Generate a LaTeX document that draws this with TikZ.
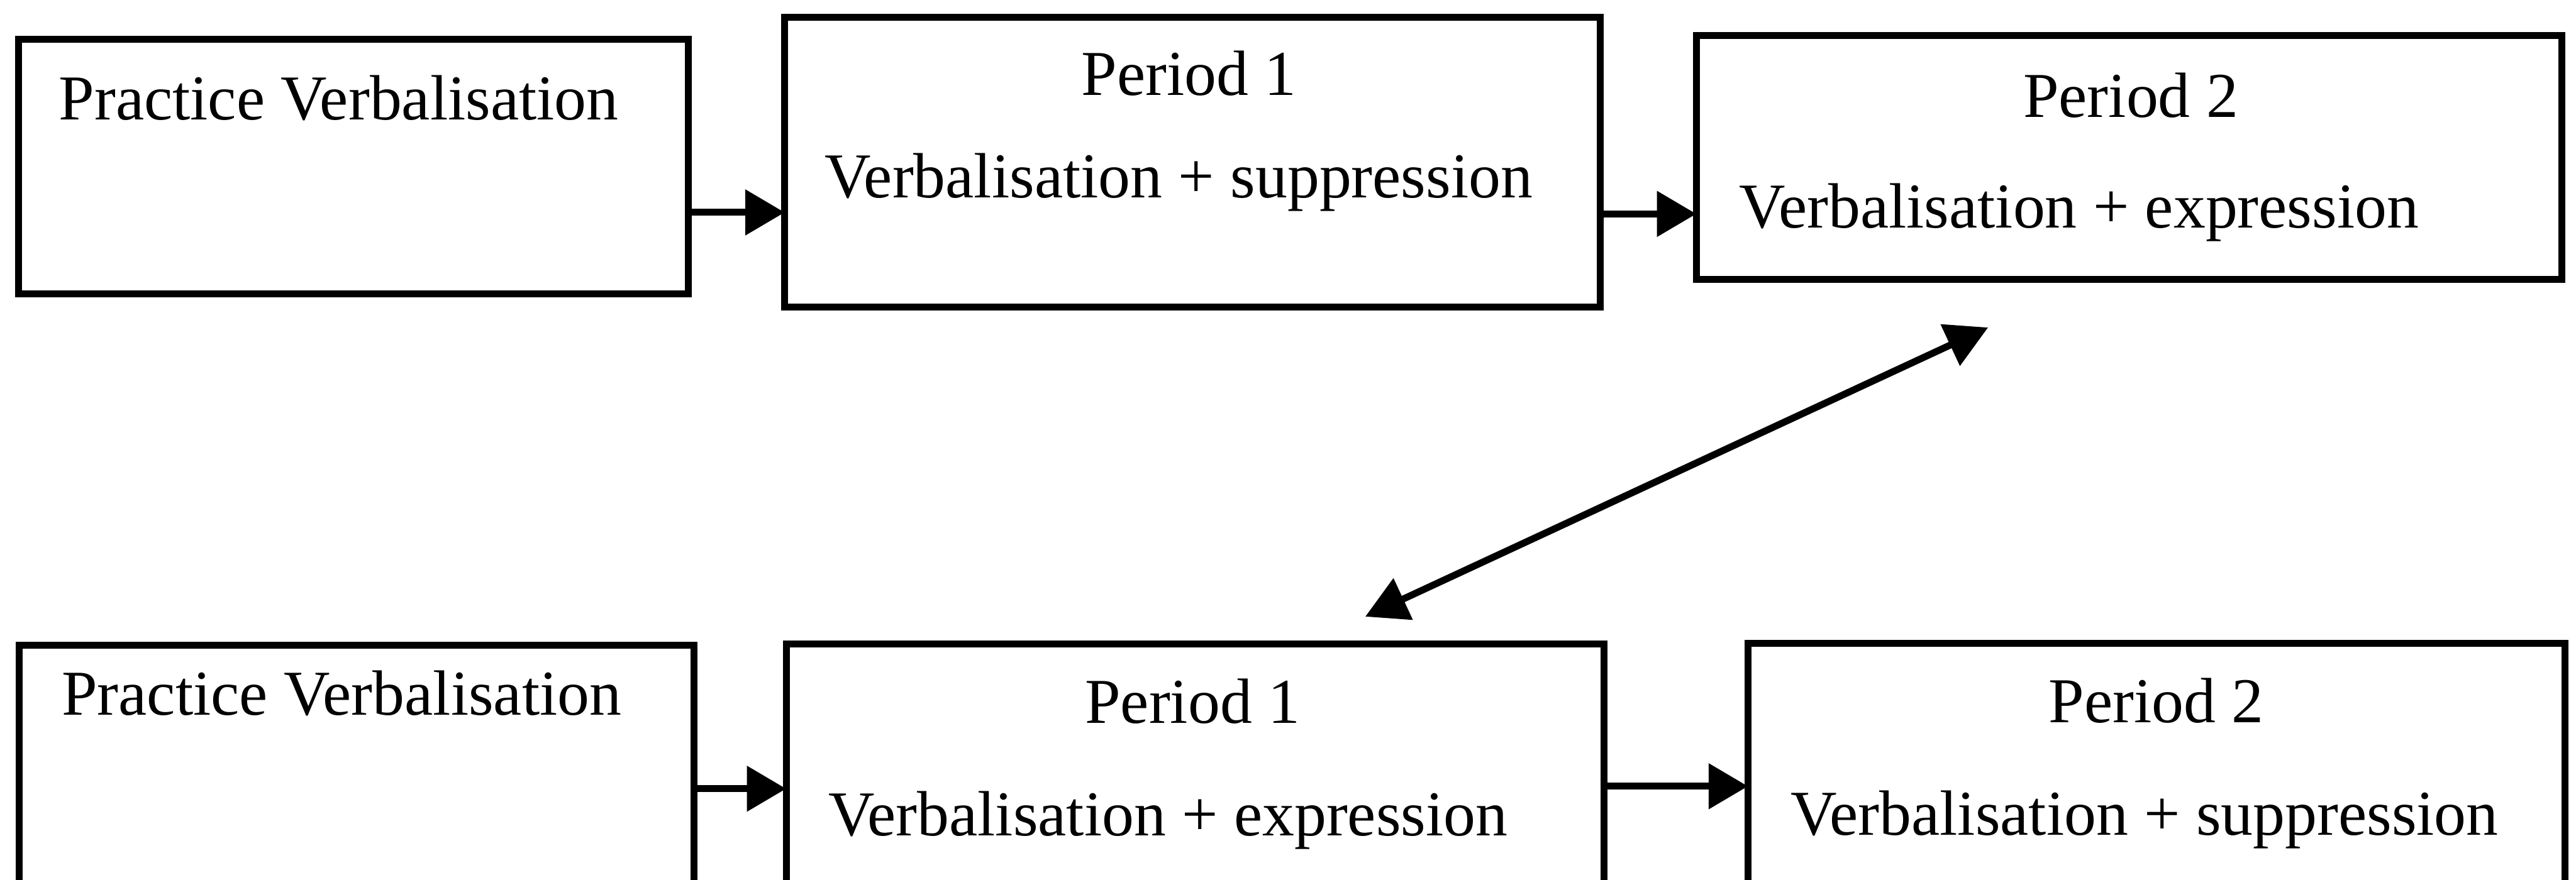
\documentclass[tikz,border=0pt]{standalone}
\usepackage{fontspec}
\setmainfont{Liberation Serif}
\usetikzlibrary{arrows.meta,calc}
\begin{document}
\begin{tikzpicture}[
  stage/.style={draw=black, line width=0.14cm, rectangle, inner sep=0pt, outer sep=0pt, anchor=north west},
  txt/.style={inner sep=0pt, font=\fontsize{37}{44}\selectfont},
  flow/.style={line width=0.14cm, -{Triangle[length=0.8cm,width=0.9cm]}},
  swap/.style={line width=0.14cm, {Triangle[length=0.85cm,width=0.9cm]}-{Triangle[length=0.85cm,width=0.9cm]}}
]
\useasboundingbox (0,0) rectangle (52.36,-17.89);
\clip (0,0) rectangle (52.36,-17.89);

% first sequence
\node[stage, minimum width=13.61cm, minimum height=5.18cm] (A) at (0.38,-0.80) {};
\node[stage, minimum width=16.58cm, minimum height=5.89cm] (B) at (15.95,-0.35) {};
\node[stage, minimum width=17.59cm, minimum height=4.96cm] (C) at (34.48,-0.72) {};

\node[txt, anchor=base west] (tA) at (1.19,-2.43) {Practice Verbalisation};
\node[txt, anchor=base] (tB1) at (24.17,-1.94) {Period 1};
\node[txt, anchor=base west] (tB2) at (16.76,-4.02) {Verbalisation + suppression};
\node[txt, anchor=base] (tC1) at (43.31,-2.39) {Period 2};
\node[txt, anchor=base west] (tC2) at (35.35,-4.64) {Verbalisation + expression};

% second sequence
\node[stage, minimum width=13.71cm, minimum height=4.98cm] (D) at (0.39,-13.12) {};
\node[stage, minimum width=16.62cm, minimum height=5.00cm] (E) at (15.98,-13.10) {};
\node[stage, minimum width=16.60cm, minimum height=5.02cm] (F) at (35.53,-13.08) {};

\node[txt, anchor=base west] (tD) at (1.25,-14.54) {Practice Verbalisation};
\node[txt, anchor=base] (tE1) at (24.24,-14.71) {Period 1};
\node[txt, anchor=base west] (tE2) at (16.83,-17.00) {Verbalisation + expression};
\node[txt, anchor=base] (tF1) at (43.83,-14.69) {Period 2};
\node[txt, anchor=base west] (tF2) at (36.39,-16.98) {Verbalisation + suppression};

% arrow heights
\coordinate (rowAB) at (0,-4.32);
\coordinate (rowBC) at (0,-4.35);
\coordinate (rowDE) at (0,-16.04);
\coordinate (rowEF) at (0,-15.99);

\draw[flow] (A.east |- rowAB) -- (B.west |- rowAB);
\draw[flow] (B.east |- rowBC) -- (C.west |- rowBC);
\draw[flow] (D.east |- rowDE) -- (E.west |- rowDE);
\draw[flow] (E.east |- rowEF) -- (F.west |- rowEF);

% crossover link between the two sequences
\coordinate (swapLow) at (27.75,-12.54);
\coordinate (swapHigh) at (40.41,-6.66);
\draw[swap] (swapLow) -- (swapHigh);
\end{tikzpicture}
\end{document}
